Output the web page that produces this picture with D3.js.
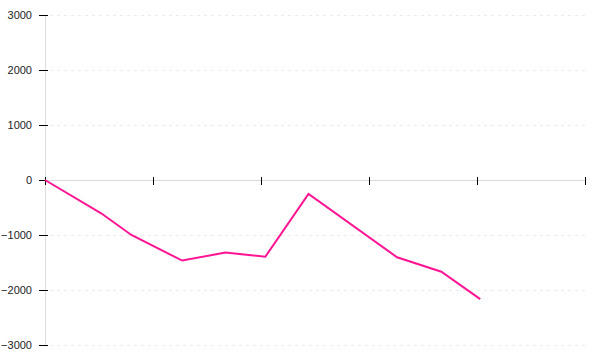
<!DOCTYPE html>
<html>
<head>
<meta charset="utf-8">
<script src="https://cdn.jsdelivr.net/npm/d3@7"></script>
<style>
  body{margin:0;background:#fff;}
  svg{display:block;font-family:"Liberation Sans",Arial,sans-serif;}
</style>
</head>
<body>
<div id="chart"></div>
<script>
// data
const xValues = [0, 52, 80, 127, 167, 204, 244, 326, 367, 403];
const yValues = [0, -605, -1000, -1465, -1320, -1395, -255, -1405, -1667, -2165];
const xTicks = [0, 100, 200, 300, 400, 500];
const yTicks = [-3000, -2000, -1000, 0, 1000, 2000, 3000];

(function(){
  const W=600,H=360,M={top:15,right:15,bottom:15,left:45};
  const w=W-M.left-M.right,h=H-M.top-M.bottom;
  const svg=d3.select('#chart').append('svg').attr('width',W).attr('height',H);
  const g=svg.append('g').attr('transform',`translate(${M.left},${M.top})`);

  const x=d3.scaleLinear().domain([0,500]).range([0,w]);
  const y=d3.scaleLinear().domain([-3000,3000]).range([h,0]);

  // dashed grid lines
  g.append('g').selectAll('line').data(yTicks.filter(d=>d!==0)).join('line')
    .attr('x1',5).attr('x2',w).attr('y1',d=>Math.round(y(d))+0.5).attr('y2',d=>Math.round(y(d))+0.5)
    .attr('stroke','#ebebeb').attr('stroke-dasharray','3,4');

  // y axis
  const ya=g.append('g').call(d3.axisLeft(y).tickValues(yTicks).tickFormat(d3.format('d')).tickSize(6).tickPadding(7));
  ya.select('.domain').attr('stroke','#ddd').attr('d',`M0.5,${y(3000)}V${y(-3000)}`);
  ya.selectAll('.tick line').attr('x1',-6).attr('x2',3).attr('stroke','#000');
  ya.selectAll('.tick text').attr('font-size',11).attr('fill','#222')
    .attr('font-family','"Liberation Sans",Arial,sans-serif');

  // x axis along zero
  const xa=g.append('g').attr('transform',`translate(0,${Math.round(y(0))})`)
    .call(d3.axisBottom(x).tickValues(xTicks).tickFormat('').tickSizeOuter(0));
  xa.select('.domain').attr('stroke','#ddd');
  xa.selectAll('.tick line').attr('y1',-3).attr('y2',5).attr('stroke','#000');

  // line
  const pts=xValues.map((v,i)=>[v,yValues[i]]);
  g.append('path').datum(pts)
    .attr('fill','none').attr('stroke','#ff1493').attr('stroke-width',2)
    .attr('d',d3.line().x(d=>x(d[0])).y(d=>y(d[1])));
})();
</script>
</body>
</html>
